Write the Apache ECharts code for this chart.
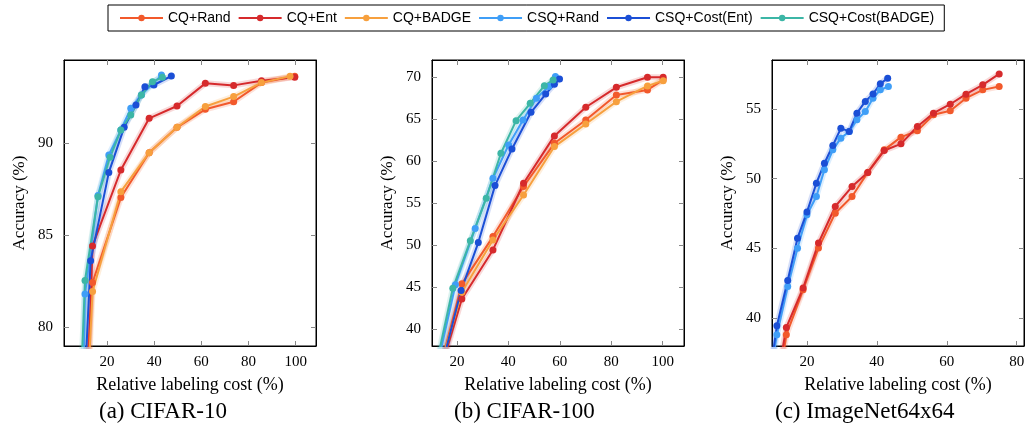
<!DOCTYPE html>
<html>
<head>
<meta charset="utf-8">
<script src="https://cdn.jsdelivr.net/npm/echarts@6/dist/echarts.min.js"></script>
<style>html,body{margin:0;padding:0;background:#fff}#c{width:1028px;height:429px}</style>
</head>
<body>
<div id="c"></div>
<script>
// ---------- data: [relative labeling cost (%), accuracy (%)] ----------
// (a) CIFAR-10
const c10_cqRand   = [[10.0,75.0],[13.9,82.43],[25.9,87.05],[37.9,89.49],[49.7,90.87],[61.7,91.85],[73.7,92.26],[85.5,93.3],[99.6,93.65]];
const c10_cqEnt    = [[11.5,75.0],[13.9,84.42],[25.9,88.55],[37.9,91.36],[49.7,92.03],[61.7,93.26],[73.7,93.15],[85.5,93.4],[99.6,93.59]];
const c10_cqBadge  = [[12.0,77.0],[13.9,81.94],[25.9,87.37],[37.9,89.49],[49.7,90.87],[61.7,92.0],[73.7,92.54],[85.5,93.3],[97.6,93.65]];
const c10_csqRand  = [[10.0,77.0],[10.7,81.81],[16.2,87.16],[20.8,89.37],[25.9,90.72],[30.1,91.9],[34.6,92.63],[39.6,93.26],[43.1,93.71]];
const c10_csqEnt   = [[10.8,77.5],[13.1,83.62],[20.8,88.42],[27.3,90.87],[32.3,92.08],[36.1,93.08],[39.9,93.17],[47.3,93.66]];
const c10_csqBadge = [[9.0,77.0],[10.7,82.54],[16.2,87.1],[21.3,89.24],[25.9,90.72],[30.1,91.54],[34.6,92.63],[39.3,93.35],[43.5,93.59]];
// (b) CIFAR-100
const c100_cqRand   = [[14.0,36.0],[21.9,45.4],[34.0,51.03],[45.9,57.0],[57.9,62.14],[70.1,64.92],[82.0,67.9],[94.1,68.5],[100.2,69.7]];
const c100_cqEnt    = [[14.5,36.0],[21.9,43.6],[34.0,49.44],[45.9,57.38],[57.9,63.02],[70.1,66.43],[82.0,68.81],[94.1,70.0],[100.2,70.0]];
const c100_cqBadge  = [[14.0,36.0],[21.9,44.4],[34.0,50.63],[45.9,55.99],[57.9,61.75],[70.1,64.44],[82.0,67.1],[94.1,68.97],[100.2,69.6]];
const c100_csqRand  = [[13.0,36.5],[19.4,45.3],[27.1,52.0],[34.0,57.98],[40.1,61.94],[45.7,64.92],[50.9,67.5],[55.7,68.9],[58.3,70.1]];
const c100_csqEnt   = [[14.0,35.5],[21.6,44.6],[28.3,50.32],[34.8,57.1],[41.4,61.47],[48.8,65.83],[54.5,68.0],[57.9,69.17],[59.9,69.8]];
const c100_csqBadge = [[12.5,36.5],[18.4,44.88],[25.2,50.52],[31.4,55.6],[37.1,60.95],[43.0,64.84],[48.5,66.9],[54.0,69.0],[57.4,69.68]];
// (c) ImageNet64x64
const inet_cqRand  = [[13.0,37.0],[14.1,38.8],[18.9,42.03],[23.3,45.02],[28.1,47.52],[32.9,48.72],[37.4,50.44],[42.1,52.06],[46.9,52.97],[51.6,53.42],[56.2,54.57],[61.0,54.86],[65.5,55.76],[70.3,56.36],[75.0,56.6]];
const inet_cqEnt   = [[12.5,37.0],[14.1,39.33],[18.9,42.15],[23.3,45.38],[28.1,48.0],[32.9,49.43],[37.4,50.44],[42.1,52.01],[46.9,52.49],[51.6,53.73],[56.2,54.69],[61.0,55.33],[65.5,56.05],[70.3,56.72],[75.0,57.5]];
const inet_csqRand = [[10.2,37.0],[11.4,38.8],[14.5,42.27],[17.3,45.0],[20.0,47.4],[22.7,48.72],[25.0,50.63],[27.4,52.06],[29.7,52.9],[32.1,53.38],[34.3,54.21],[36.7,54.81],[38.9,55.76],[41.0,56.36],[43.3,56.6]];
const inet_csqEnt  = [[10.0,37.0],[11.4,39.45],[14.5,42.7],[17.3,45.73],[20.0,47.6],[22.7,49.67],[25.0,51.1],[27.4,52.37],[29.7,53.6],[32.1,53.38],[34.3,54.69],[36.7,55.53],[38.9,56.07],[41.0,56.8],[43.1,57.2]];

// tick labels
const xTicksAB = [20, 40, 60, 80, 100];
const xTicksC  = [20, 40, 60, 80];
const yTicksA  = [80, 85, 90];
const yTicksB  = [40, 45, 50, 55, 60, 65, 70];
const yTicksC  = [40, 45, 50, 55];

const names = ['CQ+Rand','CQ+Ent','CQ+BADGE','CSQ+Rand','CSQ+Cost(Ent)','CSQ+Cost(BADGE)'];
const colors = {
  'CQ+Rand':'#f2592b','CQ+Ent':'#d62a2c','CQ+BADGE':'#f7a03e',
  'CSQ+Rand':'#3f9ef7','CSQ+Cost(Ent)':'#1b4fd6','CSQ+Cost(BADGE)':'#3cb6a6'
};
const panels = [
  {data:{'CQ+Rand':c10_cqRand,'CQ+Ent':c10_cqEnt,'CQ+BADGE':c10_cqBadge,'CSQ+Rand':c10_csqRand,'CSQ+Cost(Ent)':c10_csqEnt,'CSQ+Cost(BADGE)':c10_csqBadge},
   left:64, xmin:1.8, xmax:108.6, ymin:78.98, ymax:94.53, xt:xTicksAB, yt:yTicksA},
  {data:{'CQ+Rand':c100_cqRand,'CQ+Ent':c100_cqEnt,'CQ+BADGE':c100_cqBadge,'CSQ+Rand':c100_csqRand,'CSQ+Cost(Ent)':c100_csqEnt,'CSQ+Cost(BADGE)':c100_csqBadge},
   left:432, xmin:10.3, xmax:108.3, ymin:38.0, ymax:72.06, xt:xTicksAB, yt:yTicksB},
  {data:{'CQ+Rand':inet_cqRand,'CQ+Ent':inet_cqEnt,'CSQ+Rand':inet_csqRand,'CSQ+Cost(Ent)':inet_csqEnt},
   left:772, xmin:10.0, xmax:82.1, ymin:38.0, ymax:58.5, xt:xTicksC, yt:yTicksC}
];

const serif = 'Liberation Serif';
const grids = [], xAxes = [], yAxes = [], series = [];
panels.forEach((p, i) => {
  grids.push({left:p.left, top:60, width:252, height:286, show:true, borderColor:'#000', borderWidth:1, backgroundColor:'transparent'});
  const tick = {show:true, inside:true, length:5, lineStyle:{color:'#888', width:1}};
  xAxes.push({type:'value', gridIndex:i, min:p.xmin, max:p.xmax, position:'bottom',
    name:'Relative labeling cost (%)', nameLocation:'middle', nameGap:30,
    nameTextStyle:{fontFamily:serif, fontSize:18, color:'#000'},
    axisLine:{show:true, lineStyle:{color:'#000'}},
    axisTick:Object.assign({customValues:p.xt}, tick),
    axisLabel:{customValues:p.xt, fontFamily:serif, fontSize:15, color:'#000', margin:9},
    splitLine:{show:false}});
  xAxes.push({type:'value', gridIndex:i, min:p.xmin, max:p.xmax, position:'top',
    axisLine:{show:true, lineStyle:{color:'#000'}},
    axisTick:Object.assign({customValues:p.xt}, tick),
    axisLabel:{show:false}, splitLine:{show:false}});
  yAxes.push({type:'value', gridIndex:i, min:p.ymin, max:p.ymax, position:'left',
    name:'Accuracy (%)', nameLocation:'middle', nameGap:36, nameRotate:90,
    nameTextStyle:{fontFamily:serif, fontSize:17, color:'#000'},
    axisLine:{show:true, lineStyle:{color:'#000'}},
    axisTick:Object.assign({customValues:p.yt}, tick),
    axisLabel:{customValues:p.yt, fontFamily:serif, fontSize:15, color:'#000', margin:11},
    splitLine:{show:false}});
  yAxes.push({type:'value', gridIndex:i, min:p.ymin, max:p.ymax, position:'right',
    axisLine:{show:true, lineStyle:{color:'#000'}},
    axisTick:Object.assign({customValues:p.yt}, tick),
    axisLabel:{show:false}, splitLine:{show:false}});
  Object.keys(p.data).forEach(n => {
    series.push({type:'line', name:n+' band', xAxisIndex:2*i, yAxisIndex:2*i, data:p.data[n],
      showSymbol:false, silent:true, clip:true, z:1,
      lineStyle:{color:colors[n], width:6, opacity:0.18}, itemStyle:{color:colors[n]}});
  });
  Object.keys(p.data).forEach(n => {
    series.push({type:'line', name:n, xAxisIndex:2*i, yAxisIndex:2*i, data:p.data[n],
      symbol:'circle', symbolSize:7, showAllSymbol:true, clip:true, z:3,
      lineStyle:{color:colors[n], width:2}, itemStyle:{color:colors[n]}});
  });
});

const chart = echarts.init(document.getElementById('c'), null, {renderer:'canvas'});
chart.setOption({
  animation:false,
  backgroundColor:'#fff',
  legend:{data:names, top:5, left:108, padding:[6,10,6,11],
    borderColor:'#000', borderWidth:1, itemGap:7, itemWidth:43, itemHeight:8,
    textStyle:{fontFamily:'Liberation Sans', fontSize:14, color:'#000'}},
  grid:grids, xAxis:xAxes, yAxis:yAxes, series:series,
  graphic:[
    {type:'text', left:99, top:400, style:{text:'(a) CIFAR-10', font:'23px "Liberation Serif"', fill:'#000'}},
    {type:'text', left:454, top:400, style:{text:'(b) CIFAR-100', font:'23px "Liberation Serif"', fill:'#000'}},
    {type:'text', left:775, top:400, style:{text:'(c) ImageNet64x64', font:'23px "Liberation Serif"', fill:'#000'}}
  ]
});
</script>
</body>
</html>
